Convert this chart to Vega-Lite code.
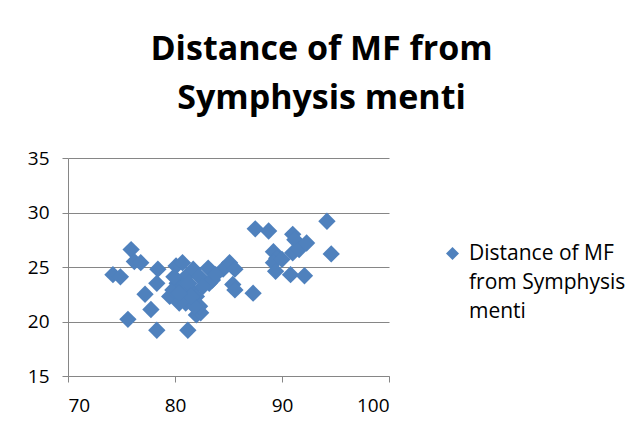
{
  "$schema": "https://vega.github.io/schema/vega-lite/v6.json",
  "width": 321,
  "height": 218,
  "autosize": "none",
  "padding": {"left": 68, "top": 158, "right": 243, "bottom": 56},
  "background": "white",
  "config": {
    "view": {"stroke": null},
    "font": "Open Sans",
    "style": {"guide-label": {"lineHeight": 29}}
  },
  "title": {
    "text": ["Distance of MF from", "Symphysis menti"],
    "font": "Open Sans",
    "fontSize": 34,
    "fontWeight": "bold",
    "color": "#000000",
    "anchor": "middle",
    "dx": 93,
    "offset": 33,
    "lineHeight": 49
  },
  "data": {
    "values": [
      {"x": 74.2, "y": 24.3, "s": "Distance of MF from Symphysis menti"},
      {"x": 74.9, "y": 24.1, "s": "Distance of MF from Symphysis menti"},
      {"x": 75.9, "y": 26.6, "s": "Distance of MF from Symphysis menti"},
      {"x": 76.2, "y": 25.5, "s": "Distance of MF from Symphysis menti"},
      {"x": 76.8, "y": 25.4, "s": "Distance of MF from Symphysis menti"},
      {"x": 75.6, "y": 20.2, "s": "Distance of MF from Symphysis menti"},
      {"x": 77.2, "y": 22.5, "s": "Distance of MF from Symphysis menti"},
      {"x": 77.75, "y": 21.1, "s": "Distance of MF from Symphysis menti"},
      {"x": 78.3, "y": 19.2, "s": "Distance of MF from Symphysis menti"},
      {"x": 78.4, "y": 24.8, "s": "Distance of MF from Symphysis menti"},
      {"x": 78.3, "y": 23.5, "s": "Distance of MF from Symphysis menti"},
      {"x": 81.2, "y": 19.2, "s": "Distance of MF from Symphysis menti"},
      {"x": 82.0, "y": 20.6, "s": "Distance of MF from Symphysis menti"},
      {"x": 82.4, "y": 20.8, "s": "Distance of MF from Symphysis menti"},
      {"x": 79.5, "y": 22.3, "s": "Distance of MF from Symphysis menti"},
      {"x": 80.1, "y": 25.1, "s": "Distance of MF from Symphysis menti"},
      {"x": 80.7, "y": 25.4, "s": "Distance of MF from Symphysis menti"},
      {"x": 80.2, "y": 23.5, "s": "Distance of MF from Symphysis menti"},
      {"x": 79.8, "y": 22.9, "s": "Distance of MF from Symphysis menti"},
      {"x": 81.0, "y": 24.1, "s": "Distance of MF from Symphysis menti"},
      {"x": 81.5, "y": 22.9, "s": "Distance of MF from Symphysis menti"},
      {"x": 82.0, "y": 22.3, "s": "Distance of MF from Symphysis menti"},
      {"x": 80.4, "y": 21.7, "s": "Distance of MF from Symphysis menti"},
      {"x": 81.0, "y": 21.7, "s": "Distance of MF from Symphysis menti"},
      {"x": 82.3, "y": 21.4, "s": "Distance of MF from Symphysis menti"},
      {"x": 81.7, "y": 24.8, "s": "Distance of MF from Symphysis menti"},
      {"x": 82.3, "y": 24.1, "s": "Distance of MF from Symphysis menti"},
      {"x": 83.1, "y": 24.9, "s": "Distance of MF from Symphysis menti"},
      {"x": 83.5, "y": 23.8, "s": "Distance of MF from Symphysis menti"},
      {"x": 83.2, "y": 23.5, "s": "Distance of MF from Symphysis menti"},
      {"x": 84.5, "y": 24.8, "s": "Distance of MF from Symphysis menti"},
      {"x": 85.1, "y": 25.4, "s": "Distance of MF from Symphysis menti"},
      {"x": 85.6, "y": 24.8, "s": "Distance of MF from Symphysis menti"},
      {"x": 85.4, "y": 23.4, "s": "Distance of MF from Symphysis menti"},
      {"x": 85.6, "y": 22.9, "s": "Distance of MF from Symphysis menti"},
      {"x": 87.3, "y": 22.6, "s": "Distance of MF from Symphysis menti"},
      {"x": 87.5, "y": 28.5, "s": "Distance of MF from Symphysis menti"},
      {"x": 88.75, "y": 28.3, "s": "Distance of MF from Symphysis menti"},
      {"x": 89.2, "y": 26.4, "s": "Distance of MF from Symphysis menti"},
      {"x": 89.5, "y": 25.8, "s": "Distance of MF from Symphysis menti"},
      {"x": 89.2, "y": 25.4, "s": "Distance of MF from Symphysis menti"},
      {"x": 89.4, "y": 24.6, "s": "Distance of MF from Symphysis menti"},
      {"x": 90.0, "y": 25.7, "s": "Distance of MF from Symphysis menti"},
      {"x": 90.8, "y": 24.3, "s": "Distance of MF from Symphysis menti"},
      {"x": 91.0, "y": 28.0, "s": "Distance of MF from Symphysis menti"},
      {"x": 91.2, "y": 27.5, "s": "Distance of MF from Symphysis menti"},
      {"x": 91.0, "y": 26.3, "s": "Distance of MF from Symphysis menti"},
      {"x": 91.6, "y": 26.6, "s": "Distance of MF from Symphysis menti"},
      {"x": 92.3, "y": 27.2, "s": "Distance of MF from Symphysis menti"},
      {"x": 92.1, "y": 24.2, "s": "Distance of MF from Symphysis menti"},
      {"x": 94.2, "y": 29.2, "s": "Distance of MF from Symphysis menti"},
      {"x": 94.6, "y": 26.2, "s": "Distance of MF from Symphysis menti"},
      {"x": 80.8, "y": 23.2, "s": "Distance of MF from Symphysis menti"},
      {"x": 81.3, "y": 23.5, "s": "Distance of MF from Symphysis menti"},
      {"x": 79.9, "y": 24.1, "s": "Distance of MF from Symphysis menti"},
      {"x": 82.6, "y": 23.2, "s": "Distance of MF from Symphysis menti"},
      {"x": 81.8, "y": 21.4, "s": "Distance of MF from Symphysis menti"},
      {"x": 81.5, "y": 22.3, "s": "Distance of MF from Symphysis menti"},
      {"x": 80.4, "y": 22.6, "s": "Distance of MF from Symphysis menti"},
      {"x": 83.8, "y": 24.3, "s": "Distance of MF from Symphysis menti"}
    ]
  },
  "mark": {"type": "point", "shape": "diamond", "filled": true, "opacity": 1, "size": 300},
  "encoding": {
    "x": {
      "field": "x", "type": "quantitative",
      "scale": {"domain": [70, 100], "nice": false, "zero": false},
      "axis": {"title": null, "values": [70, 80, 90, 100], "grid": false, "domainColor": "#868686", "tickColor": "#868686", "tickSize": 6, "labelFontSize": 19, "labelColor": "#000000", "labelFont": "Open Sans", "labelPadding": 14}
    },
    "y": {
      "field": "y", "type": "quantitative",
      "scale": {"domain": [15, 35], "nice": false, "zero": false},
      "axis": {"title": null, "values": [15, 20, 25, 30, 35], "grid": true, "gridColor": "#868686", "domainColor": "#868686", "tickColor": "#868686", "tickSize": 6, "labelFontSize": 19, "labelColor": "#000000", "labelFont": "Open Sans", "labelPadding": 13}
    },
    "color": {
      "field": "s", "type": "nominal",
      "scale": {"range": ["#4F81BD"]},
      "legend": {
        "title": null, "orient": "none", "legendX": 374, "legendY": 85,
        "symbolType": "diamond", "symbolSize": 170, "labelFontSize": 21, "labelFont": "Open Sans",
        "labelColor": "#000000", "labelLimit": 300, "labelOffset": 6,
        "labelExpr": "['Distance of MF', 'from Symphysis', 'menti']",
        "labelBaseline": "middle"
      }
    }
  }
}
